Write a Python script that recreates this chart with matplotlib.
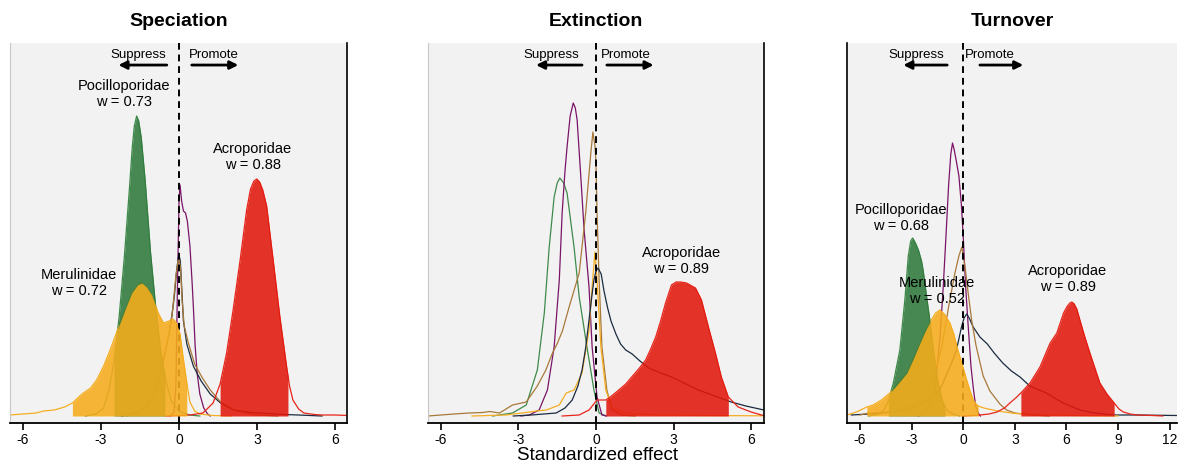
import numpy as np
import matplotlib
matplotlib.use("Agg")
import matplotlib.pyplot as plt

plt.rcParams['font.family'] = ['Liberation Sans', 'DejaVu Sans']
plt.rcParams['axes.unicode_minus'] = False

# colours
c_green = "#2f7a3c"
c_yellow = "#f6ac1b"
c_red = "#e2180c"
c_purple = "#7a1468"
c_navy = "#1b2b40"
c_brown = "#a8793a"
c_green_line = "#3e8a4a"
c_yellow_line = "#f5ae22"
c_red_line = "#e8241a"

# ---------------- Speciation ----------------
spe_poc_x = [-3.6, -3.2, -2.9, -2.7, -2.5, -2.3, -2.1, -1.9, -1.8, -1.72, -1.63, -1.55, -1.45, -1.3, -1.1, -0.9, -0.7, -0.5, -0.3, 0.0, 0.4, 0.8]
spe_poc_y = [0, 0.02, 0.08, 0.25, 0.55, 1.00, 1.60, 2.30, 2.68, 2.90, 3.00, 2.95, 2.78, 2.35, 1.65, 1.10, 0.65, 0.35, 0.15, 0.05, 0.01, 0]
spe_poc_hpd = (-2.5, -0.54)

spe_mer_x = [-6.5, -6.0, -5.5, -5.2, -4.8, -4.4, -4.1, -3.9, -3.68, -3.4, -3.17, -2.9, -2.65, -2.45, -2.27, -2.05, -1.82, -1.6, -1.43,
             -1.25, -1.05, -0.8, -0.6, -0.38, -0.23, -0.1, 0.04, 0.15, 0.3, 0.42, 0.6, 0.8, 1.3, 2.0]
spe_mer_y = [0.01, 0.02, 0.03, 0.05, 0.06, 0.09, 0.13, 0.18, 0.23, 0.28, 0.36, 0.50, 0.66, 0.80, 0.93, 1.08, 1.23, 1.31, 1.33,
             1.29, 1.21, 1.03, 0.93, 0.95, 0.97, 0.93, 0.82, 0.60, 0.33, 0.14, 0.05, 0.02, 0.005, 0]
spe_mer_hpd = (-4.1, 0.3)

spe_acr_x = [-0.5, 0.0, 0.42, 0.92, 1.31, 1.58, 1.83, 2.08, 2.35, 2.6, 2.75, 2.88, 2.99, 3.1, 3.22, 3.37, 3.62, 3.88, 4.14, 4.25, 4.38,
             4.6, 4.8, 5.2, 5.5, 6.0, 6.5]
spe_acr_y = [0, 0.005, 0.01, 0.03, 0.13, 0.32, 0.63, 1.06, 1.56, 2.06, 2.27, 2.35, 2.37, 2.34, 2.26, 2.10, 1.56, 0.99, 0.49, 0.30, 0.16,
             0.07, 0.03, 0.015, 0.01, 0.01, 0.005]
spe_acr_hpd = (1.58, 4.19)

spe_pur_x = [-0.35, -0.2, -0.12, -0.06, 0.0, 0.04, 0.1, 0.17, 0.25, 0.32, 0.42, 0.5, 0.55, 0.62, 0.7, 0.8, 0.95, 1.1, 1.2]
spe_pur_y = [0, 0.03, 0.3, 1.3, 2.15, 2.31, 2.15, 2.05, 2.03, 1.95, 1.70, 1.35, 1.10, 0.70, 0.42, 0.22, 0.08, 0.02, 0]

spe_nav_x = [-2.2, -1.77, -1.5, -1.24, -1.0, -0.86, -0.7, -0.54, -0.4, -0.28, -0.18, -0.09, -0.03, 0.0, 0.05, 0.1, 0.17, 0.3,
             0.55, 0.85, 1.2, 1.6, 2.1, 2.8, 3.4, 4.0, 4.6, 5.5]
spe_nav_y = [0, 0.03, 0.05, 0.09, 0.2, 0.33, 0.46, 0.63, 0.80, 0.99, 1.20, 1.46, 1.58, 1.61, 1.55, 1.30, 0.95, 0.72,
             0.50, 0.35, 0.22, 0.13, 0.06, 0.035, 0.025, 0.015, 0.01, 0]

spe_bro_x = [-2.0, -1.6, -1.2, -0.9, -0.6, -0.4, -0.25, -0.12, -0.04, 0.0, 0.06, 0.12, 0.2, 0.35, 0.6, 0.9, 1.2, 1.6, 2.2, 3.0, 3.8]
spe_bro_y = [0, 0.03, 0.08, 0.25, 0.55, 0.8, 1.05, 1.4, 1.55, 1.57, 1.48, 1.15, 0.9, 0.74, 0.52, 0.38, 0.26, 0.14, 0.05, 0.01, 0]

# ---------------- Extinction ----------------
ext_poc_x = [-4.0, -3.23, -2.7, -2.27, -2.0, -1.81, -1.62, -1.5, -1.4, -1.25, -1.12, -0.85, -0.65, -0.35, -0.08, 0.12, 0.4]
ext_poc_y = [0, 0.03, 0.11, 0.46, 1.03, 1.69, 2.19, 2.33, 2.38, 2.33, 2.23, 1.69, 1.19, 0.69, 0.26, 0.03, 0]

ext_mer_x = [-4.8, -3.5, -2.85, -2.3, -1.92, -1.42, -1.15, -0.85, -0.54, -0.27, -0.15, -0.04, 0.04, 0.19, 0.38, 0.62, 1.0, 1.5, 2.5, 4.0, 6.5]
ext_mer_y = [0, 0.01, 0.03, 0.05, 0.06, 0.11, 0.23, 0.26, 0.43, 0.86, 1.29, 1.64, 1.36, 0.69, 0.26, 0.08, 0.04, 0.02, 0.01, 0.005, 0.002]

ext_acr_x = [-1.31, -0.65, -0.27, 0.04, 0.2, 0.38, 0.6, 0.88, 1.15, 1.38, 1.65, 1.92, 2.1, 2.31, 2.5, 2.69, 2.92, 3.1, 3.27,
             3.5, 3.85, 4.08, 4.35, 4.62, 4.85, 5.12, 5.5, 6.0, 6.4, 6.5]
ext_acr_y = [0.0, 0.01, 0.06, 0.16, 0.16, 0.16, 0.20, 0.26, 0.32, 0.39, 0.47, 0.56, 0.66, 0.79, 0.95, 1.13, 1.31, 1.34, 1.34,
             1.33, 1.28, 1.16, 0.89, 0.63, 0.39, 0.19, 0.09, 0.04, 0.01, 0.005]
ext_acr_hpd = (0.38, 5.12)

ext_pur_x = [-2.9, -2.58, -2.2, -1.88, -1.62, -1.42, -1.31, -1.2, -1.12, -1.0, -0.88, -0.8, -0.73, -0.58, -0.46, -0.27, -0.15, 0.04, 0.23, 0.4]
ext_pur_y = [0, 0.01, 0.06, 0.26, 0.69, 1.36, 2.03, 2.45, 2.69, 3.0, 3.13, 3.08, 2.96, 2.36, 1.86, 1.29, 0.69, 0.19, 0.01, 0]

ext_nav_x = [-3.2, -2.5, -1.54, -1.2, -0.92, -0.7, -0.54, -0.4, -0.27, -0.15, -0.08, 0.0, 0.08, 0.2, 0.31, 0.45, 0.58, 0.77,
             0.95, 1.15, 1.4, 1.7, 2.04, 2.5, 2.93, 3.4, 3.96, 4.6, 5.23, 5.8, 6.5]
ext_nav_y = [0, 0.01, 0.03, 0.08, 0.16, 0.30, 0.46, 0.68, 0.96, 1.22, 1.36, 1.45, 1.48, 1.42, 1.25, 1.08, 0.95, 0.82,
             0.72, 0.66, 0.62, 0.55, 0.48, 0.43, 0.39, 0.33, 0.26, 0.20, 0.14, 0.10, 0.06]

ext_bro_x = [-6.5, -5.5, -4.9, -4.4, -4.1, -3.73, -3.23, -2.7, -2.27, -1.94, -1.7, -1.49, -1.3, -1.04, -0.65, -0.4, -0.2, -0.12,
             -0.04, 0.0, 0.04, 0.12, 0.23, 0.42, 0.62, 1.0, 1.5]
ext_bro_y = [0.0, 0.02, 0.03, 0.035, 0.045, 0.03, 0.11, 0.14, 0.30, 0.46, 0.62, 0.73, 0.85, 1.09, 1.43, 2.03, 2.63, 2.84,
             2.70, 2.53, 2.03, 1.36, 0.69, 0.26, 0.06, 0.01, 0]

# ---------------- Turnover ----------------
tur_poc_x = [-5.5, -4.9, -4.6, -4.35, -4.06, -3.68, -3.39, -3.19, -3.05, -2.94, -2.8, -2.6, -2.42, -2.32, -2.13, -1.93, -1.7,
             -1.45, -1.2, -0.95, -0.6, -0.2]
tur_poc_y = [0, 0.02, 0.06, 0.15, 0.33, 0.66, 1.16, 1.60, 1.75, 1.78, 1.74, 1.66, 1.55, 1.45, 1.20, 0.95, 0.62,
             0.33, 0.15, 0.06, 0.02, 0]
tur_poc_hpd = (-4.35, -1.06)

tur_mer_x = [-6.75, -6.2, -5.6, -5.24, -4.75, -4.26, -3.75, -3.27, -2.9, -2.51, -2.2, -1.93, -1.6, -1.36, -1.1, -0.77, -0.55,
             -0.31, 0.0, 0.2, 0.4, 0.58, 0.75, 0.87, 1.2, 2.0, 3.0, 4.5, 6.0, 9.0]
tur_mer_y = [0.01, 0.04, 0.09, 0.11, 0.16, 0.23, 0.33, 0.43, 0.57, 0.73, 0.85, 0.94, 1.03, 1.06, 1.02, 0.93, 0.82,
             0.66, 0.48, 0.36, 0.25, 0.16, 0.12, 0.10, 0.08, 0.05, 0.025, 0.012, 0.006, 0]
tur_mer_hpd = (-5.6, 0.87)

tur_acr_x = [0.0, 0.97, 1.5, 1.96, 2.4, 2.71, 3.05, 3.35, 3.88, 4.46, 5.05, 5.44, 5.83, 6.05, 6.2, 6.31, 6.45, 6.6, 6.78, 7.05, 7.36,
             7.65, 7.94, 8.35, 8.77, 9.05, 9.3, 9.7, 10.1, 11.0, 11.6]
tur_acr_y = [0, 0.01, 0.02, 0.04, 0.08, 0.13, 0.18, 0.23, 0.33, 0.49, 0.73, 0.83, 1.03, 1.10, 1.13, 1.14, 1.12, 1.07, 0.96, 0.80, 0.63,
             0.48, 0.33, 0.22, 0.13, 0.07, 0.04, 0.02, 0.01, 0.005, 0]
tur_acr_hpd = (3.35, 8.77)

tur_pur_x = [-2.6, -2.03, -1.64, -1.35, -1.16, -1.0, -0.85, -0.72, -0.62, -0.52, -0.4, -0.25, -0.1, 0.0, 0.14, 0.29, 0.45,
             0.58, 0.72, 0.87, 1.0]
tur_pur_y = [0, 0.06, 0.26, 0.78, 1.29, 1.8, 2.3, 2.62, 2.73, 2.66, 2.55, 2.40, 2.1, 1.8, 1.3, 0.9, 0.5,
             0.29, 0.1, 0.03, 0]

tur_nav_x = [-6.5, -5.5, -4.65, -3.29, -2.32, -1.36, -0.77, -0.39, -0.1, 0.05, 0.2, 0.35, 0.58, 0.97, 1.4, 1.8, 2.3, 2.8,
             3.3, 3.87, 4.4, 4.84, 5.3, 5.81, 6.78, 7.6, 8.72, 10.0, 12.4]
tur_nav_y = [0.01, 0.02, 0.03, 0.06, 0.13, 0.26, 0.49, 0.66, 0.89, 0.98, 1.02, 0.98, 0.89, 0.79, 0.72, 0.63, 0.53, 0.45,
             0.39, 0.30, 0.26, 0.23, 0.18, 0.13, 0.06, 0.03, 0.01, 0.01, 0.005]

tur_bro_x = [-6.0, -5.5, -4.5, -3.58, -3.0, -2.4, -2.0, -1.63, -1.24, -0.85, -0.48, -0.25, -0.08, 0.1, 0.31, 0.49, 0.75,
             1.16, 1.55, 2.13, 2.52, 3.0, 4.0, 5.0]
tur_bro_y = [0.01, 0.03, 0.04, 0.06, 0.10, 0.16, 0.27, 0.43, 0.69, 1.09, 1.43, 1.6, 1.69, 1.5, 1.2, 0.96, 0.7,
             0.4, 0.25, 0.12, 0.06, 0.03, 0.01, 0]

titles = ["Speciation", "Extinction", "Turnover"]
xlims = [(-6.5, 6.46), (-6.5, 6.5), (-6.75, 12.42)]
xticks = [[-6, -3, 0, 3, 6], [-6, -3, 0, 3, 6], [-6, -3, 0, 3, 6, 9, 12]]
ax_left = [10, 428, 847]
ax_right = [347, 764, 1177]
# arrows: (suppress text x, suppress tail, suppress tip, promote text x, promote tail, promote tip)
arrow_pos = [(-1.55, -0.47, -2.33, 1.35, 0.49, 2.28),
             (-1.74, -0.54, -2.32, 1.14, 0.42, 2.23),
             (-2.71, -0.93, -3.48, 1.55, 0.97, 3.49)]

labels = [
    [("Pocilloporidae\nw = 0.73", -2.1, 3.22), ("Acroporidae\nw = 0.88", 2.83, 2.59), ("Merulinidae\nw = 0.72", -3.86, 1.33)],
    [("Acroporidae\nw = 0.89", 3.29, 1.55)],
    [("Pocilloporidae\nw = 0.68", -3.61, 1.98), ("Merulinidae\nw = 0.52", -1.51, 1.25), ("Acroporidae\nw = 0.89", 6.07, 1.37)],
]

panels = [
    # (x, y, line colour, fill colour or None, hpd)
    [(spe_pur_x, spe_pur_y, c_purple, None, None),
     (spe_nav_x, spe_nav_y, c_navy, None, None),
     (spe_bro_x, spe_bro_y, c_brown, None, None),
     (spe_poc_x, spe_poc_y, c_green_line, c_green, spe_poc_hpd),
     (spe_mer_x, spe_mer_y, c_yellow_line, c_yellow, spe_mer_hpd),
     (spe_acr_x, spe_acr_y, c_red_line, c_red, spe_acr_hpd)],
    [(ext_poc_x, ext_poc_y, c_green_line, None, None),
     (ext_pur_x, ext_pur_y, c_purple, None, None),
     (ext_bro_x, ext_bro_y, c_brown, None, None),
     (ext_mer_x, ext_mer_y, c_yellow_line, None, None),
     (ext_nav_x, ext_nav_y, c_navy, None, None),
     (ext_acr_x, ext_acr_y, c_red_line, c_red, ext_acr_hpd)],
    [(tur_pur_x, tur_pur_y, c_purple, None, None),
     (tur_nav_x, tur_nav_y, c_navy, None, None),
     (tur_bro_x, tur_bro_y, c_brown, None, None),
     (tur_poc_x, tur_poc_y, c_green_line, c_green, tur_poc_hpd),
     (tur_mer_x, tur_mer_y, c_yellow_line, c_yellow, tur_mer_hpd),
     (tur_acr_x, tur_acr_y, c_red_line, c_red, tur_acr_hpd)],
]

W, H = 1184, 468
fig = plt.figure(figsize=(W / 100, H / 100), dpi=100)

for i in range(3):
    ax = fig.add_axes([ax_left[i] / W, (H - 423) / H, (ax_right[i] - ax_left[i]) / W, 380 / H])
    ax.set_facecolor("#f2f2f2")

    for x, y, lc, fc, hpd in panels[i]:
        ax.plot(x, y, color=lc, lw=0.9, zorder=2)
    ax.axvline(0, color="black", lw=1.4, ls=(0, (3.5, 2.5)), zorder=2)

    for x, y, lc, fc, hpd in panels[i]:
        if fc is None:
            continue
        xs = np.array(x)
        ys = np.array(y)
        lo, hi = hpd
        inside = (xs > lo) & (xs < hi)
        px = np.concatenate([[lo], xs[inside], [hi]])
        py = np.concatenate([[np.interp(lo, xs, ys)], ys[inside], [np.interp(hi, xs, ys)]])
        ax.fill_between(px, 0, py, color=fc, alpha=0.88, lw=0, zorder=3)

    for txt, tx, ty in labels[i]:
        ax.text(tx, ty, txt, ha="center", va="center", fontsize=10.5, linespacing=1.25, zorder=5)

    sx, s0, s1, prx, p0, p1 = arrow_pos[i]
    ax.text(sx, 0.968, "Suppress", transform=ax.get_xaxis_transform(), ha="center", va="center", fontsize=9.5)
    ax.text(prx, 0.968, "Promote", transform=ax.get_xaxis_transform(), ha="center", va="center", fontsize=9.5)
    for a, b in [(s0, s1), (p0, p1)]:
        ax.annotate("", xy=(b, 0.942), xytext=(a, 0.942), xycoords=ax.get_xaxis_transform(),
                    arrowprops=dict(arrowstyle="-|>", lw=2, color="black", mutation_scale=12, shrinkA=0, shrinkB=0))

    ax.set_xlim(*xlims[i])
    ax.set_ylim(-0.07, 3.73)
    ax.set_xticks(xticks[i])
    ax.set_yticks([])
    ax.tick_params(axis="x", direction="out", length=5, width=1.2, labelsize=10, pad=2)
    ax.set_title(titles[i], fontsize=14, fontweight="bold", pad=12)
    ax.spines["top"].set_visible(False)
    ax.spines["bottom"].set_linewidth(1.3)
    if i < 2:
        ax.spines["left"].set_color("#c8c8c8")
        ax.spines["left"].set_linewidth(0.8)
        ax.spines["right"].set_linewidth(1.2)
    else:
        ax.spines["left"].set_linewidth(1.2)
        ax.spines["right"].set_visible(False)

fig.text(597 / W, 1 - 456 / H, "Standardized effect", ha="center", va="center", fontsize=13.5)

fig.savefig("out.png", dpi=100)
